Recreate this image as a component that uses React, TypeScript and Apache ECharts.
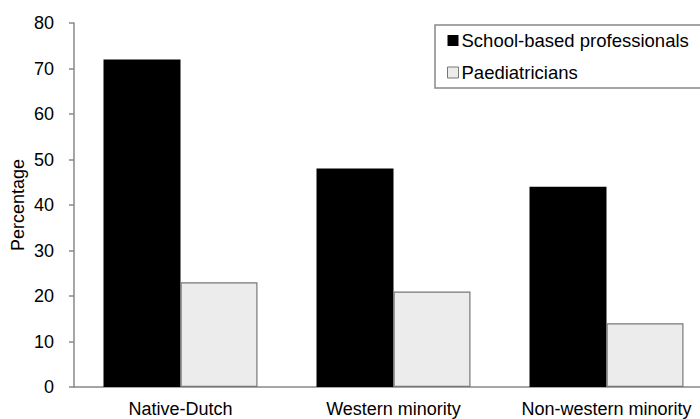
import React, { useEffect, useRef } from "react";
import * as echarts from "echarts";

const categories = ["Native-Dutch", "Western minority", "Non-western minority"];
const schoolBased = [72, 48, 44];
const paediatricians = [23, 21, 14];
const seriesNames = ["School-based professionals", "Paediatricians"];
const yTicks = { min: 0, max: 80, interval: 10 };

const FONT = "Liberation Sans, Arial, sans-serif";

export default function App() {
  const ref = useRef<HTMLDivElement>(null);
  useEffect(() => {
    if (!ref.current) return;
    const chart = echarts.init(ref.current, null, { renderer: "svg" });
    chart.setOption({
      animation: false,
      backgroundColor: "#ffffff",
      textStyle: { fontFamily: FONT },
      grid: { left: 74, top: 23, bottom: 32, width: 639, containLabel: false, outerBoundsMode: "none" },
      legend: {
        orient: "vertical",
        left: 435,
        top: 25,
        padding: [6, 60, 6, 12],
        borderColor: "#888888",
        borderWidth: 1.5,
        itemGap: 13,
        itemWidth: 11,
        itemHeight: 11,
        icon: "rect",
        textStyle: { fontFamily: FONT, fontSize: 18.5, color: "#000", padding: [0, 0, 0, -2] },
        data: seriesNames.map((n, i) => ({
          name: n,
          itemStyle: i === 0 ? { color: "#000", borderColor: "#000", borderWidth: 0 } : { color: "#ececec", borderColor: "#777", borderWidth: 1 },
        })),
      },
      xAxis: {
        type: "category",
        data: categories,
        axisLine: { lineStyle: { color: "#888888", width: 1.5 } },
        axisTick: { show: false },
        axisLabel: { fontFamily: FONT, fontSize: 18, color: "#000", margin: 13, interval: 0, hideOverlap: false },
      },
      yAxis: {
        type: "value",
        min: yTicks.min,
        max: yTicks.max,
        interval: yTicks.interval,
        name: "Percentage",
        nameLocation: "middle",
        nameGap: 47,
        nameMoveOverlap: false,
        nameTextStyle: { fontFamily: FONT, fontSize: 18, color: "#000" },
        axisLine: { show: true, lineStyle: { color: "#888888", width: 1.5 } },
        axisTick: { show: true, length: 5, lineStyle: { color: "#888888", width: 1.5 } },
        splitLine: { show: false },
        axisLabel: { fontFamily: FONT, fontSize: 18, color: "#000", margin: 20 },
      },
      series: [
        {
          name: seriesNames[0],
          type: "bar",
          data: schoolBased,
          barCategoryGap: "27.7%",
          barGap: "0%",
          itemStyle: { color: "#000000" },
        },
        {
          name: seriesNames[1],
          type: "bar",
          data: paediatricians,
          itemStyle: { color: "#ececec", borderColor: "#777777", borderWidth: 1.2 },
        },
      ],
    });
    return () => chart.dispose();
  }, []);
  return <div ref={ref} style={{ width: 700, height: 419, position: "absolute", left: 0, top: 0 }} />;
}
